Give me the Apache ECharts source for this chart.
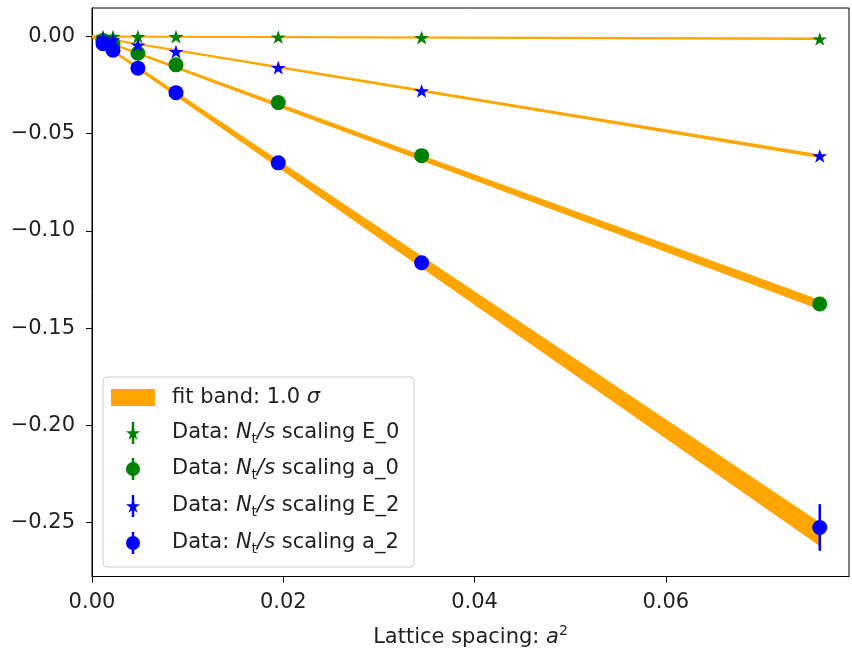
<!DOCTYPE html>
<html>
<head>
<meta charset="utf-8">
<script src="https://cdn.jsdelivr.net/npm/echarts@6/dist/echarts.min.js"></script>
<style>
  html, body { margin: 0; padding: 0; background: #ffffff; }
  #chart { width: 852px; height: 653px; }
</style>
</head>
<body>
<div id="chart"></div>
<script>
// Lattice spacing a^2 of each ensemble
const latticeA2 = [0.00115, 0.0022, 0.0048, 0.00878, 0.01948, 0.03447, 0.0761];

// N_t/s scaling data with their uncertainties
const e0Values = [0.0000, -0.0000, -0.0001, -0.0001, -0.0003, -0.0006, -0.0013];
const e0Errors = [0.00005, 0.00005, 0.00005, 0.0001, 0.0001, 0.0002, 0.0003];
const a0Values = [-0.0021, -0.0039, -0.0086, -0.0146, -0.0340, -0.0613, -0.1376];
const a0Errors = [0.0001, 0.0002, 0.0003, 0.0004, 0.0008, 0.0012, 0.0030];
const e2Values = [-0.0009, -0.0018, -0.0044, -0.0078, -0.0160, -0.0280, -0.0614];
const e2Errors = [0.0001, 0.0001, 0.0002, 0.0002, 0.0004, 0.0006, 0.0012];
const a2Values = [-0.0037, -0.0071, -0.0163, -0.0289, -0.0650, -0.1164, -0.2526];
const a2Errors = [0.0002, 0.0003, 0.0005, 0.0008, 0.0015, 0.0030, 0.0120];

// Linear fits in a^2: centre value and 1 sigma half width at both ends of the band
const fitX = [0, 0.0761];
const fitE0Centre = [0, -0.0012];
const fitE0Sigma = [0, 0.0001];
const fitE2Centre = [0, -0.0616];
const fitE2Sigma = [0, 0.0004];
const fitA0Centre = [0, -0.1380];
const fitA0Sigma = [0, 0.0020];
const fitA2Centre = [0, -0.2560];
const fitA2Sigma = [0, 0.0055];

// Axis ticks
const xTicks = [0, 0.02, 0.04, 0.06];
const yTicks = [0, -0.05, -0.10, -0.15, -0.20, -0.25];

const FONT = 'DejaVu Sans';
const FS = 21;
const TEXT = '#1f1f1f';
const ORANGE = '#ffa500';
const GREEN = '#008000';
const BLUE = '#0000ff';
const STAR = 'path://M0,-1L0.2245,-0.309L0.951,-0.309L0.363,0.118L0.588,0.809L0,0.382L-0.588,0.809L-0.363,0.118L-0.951,-0.309L-0.2245,-0.309Z';

const bands = [
  { centre: fitE0Centre, sigma: fitE0Sigma },
  { centre: fitE2Centre, sigma: fitE2Sigma },
  { centre: fitA0Centre, sigma: fitA0Sigma },
  { centre: fitA2Centre, sigma: fitA2Sigma }
];

const dataSets = [
  { name: 'E_0', values: e0Values, errors: e0Errors, color: GREEN, symbol: STAR, size: [15, 14.3] },
  { name: 'a_0', values: a0Values, errors: a0Errors, color: GREEN, symbol: 'circle', size: 15 },
  { name: 'E_2', values: e2Values, errors: e2Errors, color: BLUE, symbol: STAR, size: [15, 14.3] },
  { name: 'a_2', values: a2Values, errors: a2Errors, color: BLUE, symbol: 'circle', size: 15 }
];

const series = [];

// Fit bands: filled polygon between centre - sigma and centre + sigma
series.push({
  type: 'custom',
  name: 'fit band',
  z: 1,
  clip: true,
  silent: true,
  data: bands.map((b, i) => [fitX[1], b.centre[1], i]),
  renderItem: function (params, api) {
    const b = bands[params.dataIndex];
    const upper = fitX.map((x, k) => api.coord([x, b.centre[k] + b.sigma[k]]));
    const lower = fitX.map((x, k) => api.coord([x, b.centre[k] - b.sigma[k]])).reverse();
    return {
      type: 'polygon',
      shape: { points: upper.concat(lower) },
      style: { fill: ORANGE, stroke: ORANGE, lineWidth: 2 }
    };
  }
});

dataSets.forEach((d, k) => {
  // vertical error bars
  series.push({
    type: 'custom',
    name: 'err ' + d.name,
    z: 2 + 2 * k,
    silent: true,
    data: latticeA2.map((x, i) => [x, d.values[i], d.errors[i]]),
    renderItem: function (params, api) {
      const x = api.value(0), y = api.value(1), e = api.value(2);
      const p1 = api.coord([x, y + e]);
      const p2 = api.coord([x, y - e]);
      return {
        type: 'line',
        shape: { x1: p1[0], y1: p1[1], x2: p2[0], y2: p2[1] },
        style: { stroke: d.color, lineWidth: 2.5 }
      };
    }
  });
  // markers
  series.push({
    type: 'scatter',
    name: d.name,
    z: 3 + 2 * k,
    symbol: d.symbol,
    symbolSize: d.size,
    symbolKeepAspect: true,
    itemStyle: { color: d.color, opacity: 1 },
    data: latticeA2.map((x, i) => [x, d.values[i]])
  });
});

// Legend box drawn with graphic elements
const legendRich = {
  i: { fontFamily: FONT, fontSize: FS, fontStyle: 'italic', fill: TEXT, lineHeight: 26 },
  r: { fontFamily: FONT, fontSize: FS, fill: TEXT, lineHeight: 26 },
  sub: { fontFamily: FONT, fontSize: 14, fill: TEXT, lineHeight: 16, verticalAlign: 'bottom' }
};
const legendRows = [
  { y: 398, text: '{r|fit band: 1.0 }{i|σ}' },
  { y: 433, text: '{r|Data: }{i|N}{sub|t}{i|/s}{r| scaling E_0}', set: 0 },
  { y: 469, text: '{r|Data: }{i|N}{sub|t}{i|/s}{r| scaling a_0}', set: 1 },
  { y: 506, text: '{r|Data: }{i|N}{sub|t}{i|/s}{r| scaling E_2}', set: 2 },
  { y: 543, text: '{r|Data: }{i|N}{sub|t}{i|/s}{r| scaling a_2}', set: 3 }
];

function starPoints(cx, cy, r) {
  const pts = [];
  for (let k = 0; k < 10; k++) {
    const rr = k % 2 === 0 ? r : r * 0.382;
    const ang = -Math.PI / 2 + k * Math.PI / 5;
    pts.push([cx + rr * Math.cos(ang), cy + rr * Math.sin(ang)]);
  }
  return pts;
}

const legendElements = [
  {
    type: 'rect',
    shape: { x: 103, y: 377, width: 311, height: 190, r: 4 },
    style: { fill: 'rgba(255,255,255,0.8)', stroke: '#cfcfcf', lineWidth: 1 }
  },
  {
    type: 'rect',
    shape: { x: 111, y: 389, width: 44, height: 17 },
    style: { fill: ORANGE }
  }
];
legendRows.forEach((row) => {
  if (row.set !== undefined) {
    const d = dataSets[row.set];
    legendElements.push({
      type: 'line',
      shape: { x1: 133, y1: row.y - 11, x2: 133, y2: row.y + 11 },
      style: { stroke: d.color, lineWidth: 2.5 }
    });
    if (d.symbol === 'circle') {
      legendElements.push({ type: 'circle', shape: { cx: 133, cy: row.y, r: 7 }, style: { fill: d.color } });
    } else {
      legendElements.push({ type: 'polygon', shape: { points: starPoints(133, row.y + 0.6, 7.5) }, style: { fill: d.color } });
    }
  }
  legendElements.push({
    type: 'text',
    x: 172,
    y: row.y,
    style: {
      text: row.text,
      rich: legendRich,
      fontFamily: FONT,
      fontSize: FS,
      fill: TEXT,
      verticalAlign: 'middle',
      align: 'left'
    }
  });
});

const chart = echarts.init(document.getElementById('chart'), null, { renderer: 'canvas' });
chart.setOption({
  animation: false,
  backgroundColor: '#ffffff',
  grid: {
    left: 92, right: 3, top: 8, bottom: 76,
    show: true, borderColor: '#000000', borderWidth: 1, backgroundColor: 'transparent'
  },
  xAxis: {
    type: 'value',
    min: 0,
    max: 0.07916,
    name: '{n|Lattice spacing: }{i|a}{s|2}',
    nameLocation: 'middle',
    nameGap: 48,
    nameTextStyle: {
      rich: {
        n: { fontFamily: FONT, fontSize: FS, color: TEXT, lineHeight: 26 },
        i: { fontFamily: FONT, fontSize: FS, color: TEXT, fontStyle: 'italic', lineHeight: 26 },
        s: { fontFamily: FONT, fontSize: 14, color: TEXT, lineHeight: 15, verticalAlign: 'top' }
      }
    },
    axisLine: { show: true, onZero: false, lineStyle: { color: '#000000', width: 1 } },
    axisTick: { show: true, length: 6, customValues: xTicks, lineStyle: { color: '#000000', width: 1 } },
    axisLabel: {
      customValues: xTicks,
      formatter: (v) => v.toFixed(2),
      fontFamily: FONT, fontSize: FS, color: TEXT, margin: 16
    },
    splitLine: { show: false }
  },
  yAxis: {
    type: 'value',
    min: -0.2778,
    max: 0.01465,
    axisLine: { show: true, onZero: false, lineStyle: { color: '#000000', width: 1 } },
    axisTick: { show: true, length: 6, customValues: yTicks, lineStyle: { color: '#000000', width: 1 } },
    axisLabel: {
      customValues: yTicks,
      formatter: (v) => (v < 0 ? '\u2212' : '') + Math.abs(v).toFixed(2),
      fontFamily: FONT, fontSize: FS, color: TEXT, margin: 17
    },
    splitLine: { show: false }
  },
  series: series,
  graphic: { elements: legendElements.map((e) => Object.assign({ z: 100 }, e)) }
});
</script>
</body>
</html>
